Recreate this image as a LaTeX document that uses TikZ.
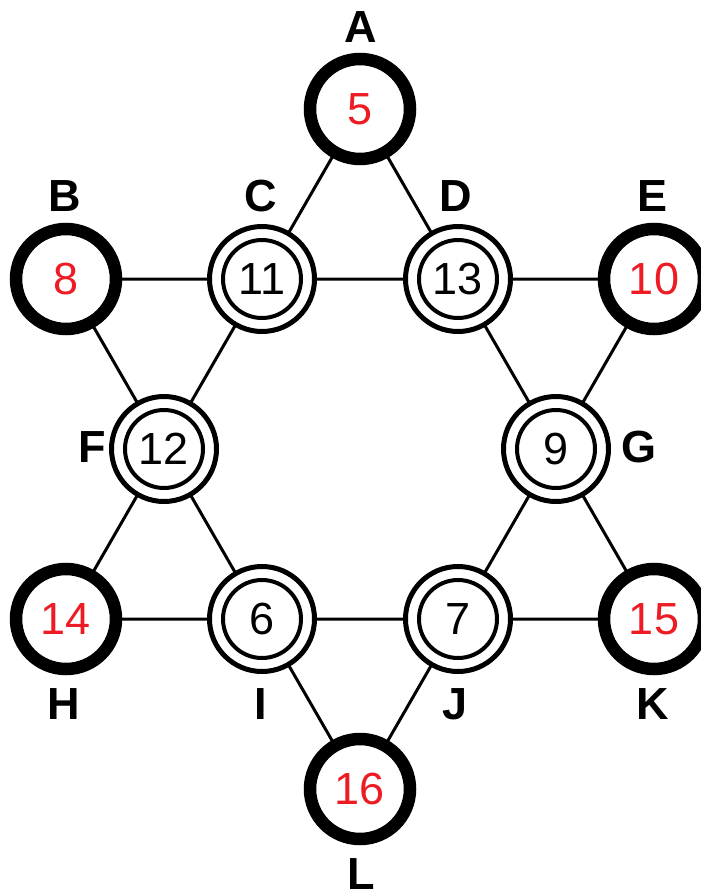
\documentclass[tikz,border=0pt]{standalone}
\usepackage{fontspec}
\setmainfont{Liberation Sans}
\definecolor{numred}{RGB}{237,28,36}
\begin{document}
\begin{tikzpicture}[x=1pt,y=-1pt,
  outerring/.style={circle,draw=black,fill=white,line width=12.5pt,minimum size=100pt,inner sep=0pt,
    text=numred,font=\fontsize{45}{54}\selectfont},
  innerring/.style={circle,draw=black,fill=white,line width=5pt,minimum size=105pt,inner sep=0pt,
    text=black,font=\fontsize{45}{54}\selectfont},
  inring/.style={line width=4pt},
  edge/.style={line width=3pt},
  lab/.style={font=\bfseries\fontsize{45}{54}\selectfont,inner sep=0pt}]
\useasboundingbox (0,0) rectangle (701,894);
\fill[white] (0,0) rectangle (701,894);
% coordinates
\coordinate (pA) at (360,109);
\coordinate (pB) at (66,279);
\coordinate (pC) at (262,279);
\coordinate (pD) at (458,279);
\coordinate (pE) at (654,279);
\coordinate (pF) at (164,449);
\coordinate (pG) at (556,449);
\coordinate (pH) at (66,619);
\coordinate (pI) at (262,619);
\coordinate (pJ) at (458,619);
\coordinate (pK) at (654,619);
\coordinate (pL) at (360,789);
% edges
\draw[edge] (pA) -- (pC) -- (pF) -- (pH) -- (pI) -- (pJ) -- (pK) -- (pG) -- (pD) -- (pA);
\draw[edge] (pB) -- (pC) -- (pD) -- (pE) -- (pG) -- (pJ) -- (pL) -- (pI) -- (pF) -- (pB);
% outer nodes
\node[outerring] (A) at (pA) {5};
\node[outerring] (B) at (pB) {8};
\node[outerring] (E) at (pE) {10};
\node[outerring] (H) at (pH) {14};
\node[outerring] (K) at (pK) {15};
\node[outerring] (L) at (pL) {16};
% inner nodes
\foreach \n/\v in {C/11,D/13,F/12,G/9,I/6,J/7}{
  \node[innerring] (\n) at (p\n) {\v};
  \draw[inring] (p\n) circle[radius=39pt];
}
% labels
\node[lab] (lA) at (361,27) {A};
\node[lab] (lB) at (65,196) {B};
\node[lab] (lC) at (261,196) {C};
\node[lab] (lD) at (456,196) {D};
\node[lab] (lE) at (652,196) {E};
\node[lab] (lF) at (92,447) {F};
\node[lab] (lG) at (639,447) {G};
\node[lab] (lH) at (64,704) {H};
\node[lab] (lI) at (261,704) {I};
\node[lab] (lJ) at (455,704) {J};
\node[lab] (lK) at (653,704) {K};
\node[lab] (lL) at (361,874) {L};
\end{tikzpicture}
\end{document}
